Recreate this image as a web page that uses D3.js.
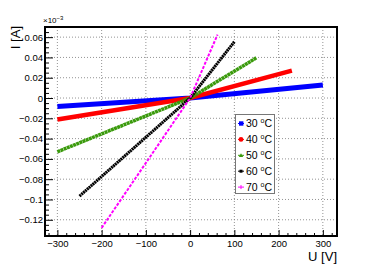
<!DOCTYPE html>
<head>
  <style>
    body { margin: 0; background: #fff; }
    svg { font-family: "Liberation Sans", Arial, sans-serif; }
    .axis path { display: none; }
    .axis text { font-size: 9.5px; fill: #000; }
    .grid line { stroke: #777; stroke-width: 0.8; stroke-dasharray: 1,2; }
  </style>
  <script src="https://d3js.org/d3.v7.min.js"></script>
</head>
<body>
<div class="home"></div>
<script>
    // U [V] and I [x10^-3 A]
    const voltage30 = [-300, 0, 300];
    const current30 = [-0.0084, 0, 0.0129];
    const voltage40 = [-300, 0, 230];
    const current40 = [-0.0211, 0, 0.027];
    const voltage50 = [-300, 0, 150];
    const current50 = [-0.053, 0, 0.0397];
    const voltage60 = [-250, 0, 100];
    const current60 = [-0.0967, 0, 0.0555];
    const voltage70 = [-200, 0, 62];
    const current70 = [-0.128, 0, 0.0625];

    const labels = ["30", "40", "50", "60", "70"];
    const xTicks = [-300, -200, -100, 0, 100, 200, 300];
    const yTicks = [-0.12, -0.1, -0.08, -0.06, -0.04, -0.02, 0, 0.02, 0.04, 0.06];

    const width = 374, height = 268;
    const mLeft = 45, mRight = 337, mTop = 27, mBottom = 236;

    const svg = d3.select(".home").append("svg")
        .attr("width", width)
        .attr("height", height);

    const x = d3.scaleLinear().domain([-328, 332]).range([mLeft, mRight]);
    const y = d3.scaleLinear().domain([-0.136, 0.070]).range([mBottom, mTop]);

    const xMinor = d3.range(-320, 331, 20).filter(v => v % 100 !== 0);
    const yMinor = d3.range(-135, 71, 5).map(v => v / 1000).filter(v => Math.round(v * 1000) % 20 !== 0);

    // grid
    svg.append("g").attr("class", "grid")
        .selectAll("line").data(xTicks).enter().append("line")
        .attr("x1", d => x(d)).attr("x2", d => x(d))
        .attr("y1", mTop).attr("y2", mBottom);
    svg.append("g").attr("class", "grid")
        .selectAll("line").data(yTicks).enter().append("line")
        .attr("x1", mLeft).attr("x2", mRight)
        .attr("y1", d => y(d)).attr("y2", d => y(d));

    // series
    const series = [
        {u: voltage30, i: current30, color: "#0000ff", w: 5, dash: null},
        {u: voltage40, i: current40, color: "#ff0000", w: 4.5, dash: null},
        {u: voltage50, i: current50, color: "#3a9a0c", w: 3.5, dash: "3,0.4"},
        {u: voltage60, i: current60, color: "#000000", w: 3, dash: "2,0.5"},
        {u: voltage70, i: current70, color: "#ff00ff", w: 2, dash: "3,1.5"}
    ];

    const line = d3.line().x(d => x(d[0])).y(d => y(d[1]));

    svg.append("g").selectAll("path")
        .data(series).enter().append("path")
        .attr("d", s => line(s.u.map((u, k) => [u, s.i[k]])))
        .attr("fill", "none")
        .attr("stroke", s => s.color)
        .attr("stroke-width", s => s.w)
        .attr("stroke-dasharray", s => s.dash);

    // axes
    const fmt = d3.format(".2~f");
    svg.append("g").attr("class", "axis")
        .attr("transform", `translate(0,${mBottom})`)
        .call(d3.axisBottom(x).tickValues(xTicks).tickSize(-6).tickPadding(4).tickFormat(d3.format("d")));
    svg.append("g").attr("class", "axis")
        .attr("transform", `translate(0,${mBottom})`)
        .call(d3.axisBottom(x).tickValues(xMinor).tickSize(-3).tickFormat(""));
    svg.append("g").attr("class", "axis")
        .attr("transform", `translate(${mLeft},0)`)
        .call(d3.axisLeft(y).tickValues(yTicks).tickSize(-8).tickPadding(2).tickFormat(fmt));
    svg.append("g").attr("class", "axis")
        .attr("transform", `translate(${mLeft},0)`)
        .call(d3.axisLeft(y).tickValues(yMinor).tickSize(-4).tickFormat(""));
    svg.selectAll(".axis line").attr("stroke", "#000");

    // frame
    svg.append("rect")
        .attr("x", mLeft).attr("y", mTop)
        .attr("width", mRight - mLeft).attr("height", mBottom - mTop)
        .attr("fill", "none").attr("stroke", "#000").attr("stroke-width", 2);

    // titles
    svg.append("text")
        .attr("x", mRight).attr("y", 261)
        .attr("text-anchor", "end")
        .style("font-size", "13px")
        .text("U [V]");
    svg.append("text")
        .attr("transform", "translate(20,26) rotate(-90)")
        .attr("text-anchor", "end")
        .style("font-size", "13px")
        .text("I [A]");
    const exp = svg.append("text")
        .attr("x", 43).attr("y", 23)
        .style("font-size", "8px");
    exp.append("tspan").text("×10");
    exp.append("tspan").attr("dy", -3).style("font-size", "6px").text("−3");

    // legend
    const legend = svg.append("g");
    legend.append("rect")
        .attr("x", 235.5).attr("y", 114.5)
        .attr("width", 39).attr("height", 79)
        .attr("fill", "#fff").attr("stroke", "#777").attr("stroke-width", 1);

    const ly = k => 123.5 + k * 15.9;
    const items = legend.selectAll("g").data(series).enter().append("g")
        .attr("transform", (d, k) => `translate(0,${ly(k)})`);
    items.append("line")
        .attr("x1", 238).attr("x2", 244)
        .attr("stroke", d => d.color).attr("stroke-width", 1);
    items.each(function (d, k) {
        const g = d3.select(this);
        if (k === 0) g.append("rect").attr("x", 239).attr("y", -2.2).attr("width", 4.4).attr("height", 4.4).attr("fill", d.color);
        if (k === 1) g.append("circle").attr("cx", 241).attr("r", 2.4).attr("fill", d.color);
        if (k === 2) g.append("path").attr("d", "M238.8,1.8L241,-2L243.2,1.8Z").attr("fill", d.color);
        if (k === 3) g.append("rect").attr("x", 239.5).attr("y", -1.5).attr("width", 3).attr("height", 3).attr("fill", d.color);
        if (k === 4) g.append("path").attr("d", "M241,-2V2").attr("stroke", d.color).attr("stroke-width", 1);
    });
    const txt = items.append("text")
        .attr("x", 246).attr("y", 3.7)
        .style("font-size", "10.5px");
    txt.append("tspan").text((d, k) => labels[k] + " ");
    txt.append("tspan").attr("dy", -4).style("font-size", "7px").text("o");
    txt.append("tspan").attr("dy", 4).text("C");
</script>
</body>
